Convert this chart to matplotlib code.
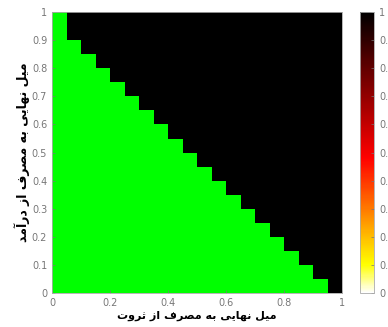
import numpy as np
import matplotlib.pyplot as plt
from matplotlib.colors import ListedColormap, LinearSegmentedColormap

# data: top edge of the green region for each 0.05-wide column
x_edges = np.arange(0, 1.0001, 0.05)
y_edges = np.arange(0, 1.0001, 0.05)
green_top = [1.0, 0.9, 0.85, 0.8, 0.75, 0.7, 0.65, 0.6, 0.55, 0.5,
             0.45, 0.4, 0.35, 0.3, 0.25, 0.2, 0.15, 0.1, 0.05, 0.0]

xlabel_txt = 'میل نهایی به مصرف از ثروت'
ylabel_txt = 'میل نهایی به مصرف از درآمد'
xticks = [0, 0.2, 0.4, 0.6, 0.8, 1]
yticks = [0, 0.1, 0.2, 0.3, 0.4, 0.5, 0.6, 0.7, 0.8, 0.9, 1]
cbar_ticks = [0, 0.1, 0.2, 0.3, 0.4, 0.5, 0.6, 0.7, 0.8, 0.9, 1]

# tiny persian shaper (matplotlib has no complex text layout)
forms = {  # isolated, final, initial, medial
    'ا': ('\uFE8D', '\uFE8E'), 'آ': ('\uFE81', '\uFE82'),
    'د': ('\uFEA9', '\uFEAA'), 'ر': ('\uFEAD', '\uFEAE'),
    'ز': ('\uFEAF', '\uFEB0'), 'و': ('\uFEED', '\uFEEE'),
    'ب': ('\uFE8F', '\uFE90', '\uFE91', '\uFE92'),
    'ت': ('\uFE95', '\uFE96', '\uFE97', '\uFE98'),
    'ث': ('\uFE99', '\uFE9A', '\uFE9B', '\uFE9C'),
    'ص': ('\uFEB9', '\uFEBA', '\uFEBB', '\uFEBC'),
    'ف': ('\uFED1', '\uFED2', '\uFED3', '\uFED4'),
    'ل': ('\uFEDD', '\uFEDE', '\uFEDF', '\uFEE0'),
    'م': ('\uFEE1', '\uFEE2', '\uFEE3', '\uFEE4'),
    'ن': ('\uFEE5', '\uFEE6', '\uFEE7', '\uFEE8'),
    'ه': ('\uFEE9', '\uFEEA', '\uFEEB', '\uFEEC'),
    'ی': ('\uFEEF', '\uFEF0', '\uFEF3', '\uFEF4'),
}


def shape(s):
    out = []
    for i, c in enumerate(s):
        if c not in forms:
            out.append(c)
            continue
        prev = s[i - 1] if i > 0 else ' '
        nxt = s[i + 1] if i < len(s) - 1 else ' '
        jp = prev in forms and len(forms[prev]) == 4
        jn = len(forms[c]) == 4 and nxt in forms
        f = forms[c]
        if jp and jn:
            out.append(f[3])
        elif jn:
            out.append(f[2])
        elif jp:
            out.append(f[1])
        else:
            out.append(f[0])
    return ''.join(out)[::-1]


# 1 = black, 0 = green
Z = np.zeros((len(y_edges) - 1, len(x_edges) - 1))
for j in range(len(x_edges) - 1):
    for i in range(len(y_edges) - 1):
        if y_edges[i] >= green_top[j] - 1e-9:
            Z[i, j] = 1

fig = plt.figure(figsize=(3.88, 3.27), dpi=100)
ax = fig.add_axes([0.134, 0.104, 0.748, 0.859])
ax.pcolormesh(x_edges, y_edges, Z, cmap=ListedColormap(['#00ff00', '#000000']),
              vmin=0, vmax=1)
ax.set_xlim(0, 1)
ax.set_ylim(0, 1)
ax.set_xticks(xticks)
ax.set_xticklabels([f'{t:g}' for t in xticks])
ax.set_yticks(yticks)
ax.set_yticklabels([f'{t:g}' for t in yticks])
ax.tick_params(direction='in', length=2, labelsize=7, colors='#777777', width=0.5)
for sp in ax.spines.values():
    sp.set_color('#aaaaaa')
    sp.set_linewidth(0.6)
ax.set_xlabel(shape(xlabel_txt), fontsize=8, fontweight='bold', labelpad=2,
              family='DejaVu Sans')
ax.set_ylabel(shape(ylabel_txt), fontsize=9, fontweight='bold', labelpad=1,
              family='DejaVu Sans')

# colorbar: white -> yellow -> red -> black
cmap_cb = LinearSegmentedColormap.from_list(
    'cb', [(0, '#ffffff'), (0.1, '#ffff00'), (0.48, '#ff0000'), (1, '#000000')])
cax = fig.add_axes([0.928, 0.104, 0.036, 0.859])
sm = plt.cm.ScalarMappable(cmap=cmap_cb, norm=plt.Normalize(0, 1))
cb = fig.colorbar(sm, cax=cax, ticks=cbar_ticks)
cb.ax.set_yticklabels([f'{t:g}' for t in cbar_ticks])
cb.ax.tick_params(direction='in', length=2, labelsize=7, colors='#777777', width=0.5)
cb.outline.set_edgecolor('#aaaaaa')
cb.outline.set_linewidth(0.6)

fig.savefig('out.png', dpi=100)
